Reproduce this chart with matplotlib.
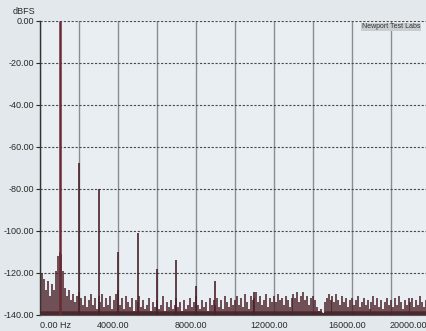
import numpy as np
import matplotlib
matplotlib.use("Agg")
import matplotlib.pyplot as plt
from matplotlib.transforms import ScaledTranslation

plt.rcParams["font.family"] = ["Liberation Sans", "DejaVu Sans"]

# harmonic peaks of the 1 kHz test tone (Hz, dBFS)
harm_freq = [1000, 2000, 3000, 4000, 5000, 6000, 7000, 8000, 9000, 11000]
harm_db = [0.0, -67.5, -80.0, -110.0, -101.0, -118.0, -114.0, -126.0, -124.0, -129.0]

# noise floor, one value per 100 Hz bin (0 .. 19900 Hz)
noise_db = [
    -107, -120, -123, -128, -124, -131, -125, -128, -119, -112,
    -110, -111, -119, -127, -131, -128, -133, -130, -134, -131,
    -129, -132, -135, -131, -136, -133, -130, -135, -132, -137,
    -131, -134, -130, -136, -132, -135, -131, -137, -133, -130,
    -128, -135, -132, -137, -131, -134, -136, -132, -138, -133,
    -134, -131, -136, -133, -137, -135, -132, -138, -134, -136,
    -133, -137, -135, -131, -138, -134, -136, -133, -137, -135,
    -132, -136, -134, -138, -133, -137, -135, -132, -136, -134,
    -131, -135, -137, -133, -136, -134, -138, -132, -135, -133,
    -135, -132, -136, -133, -137, -131, -134, -136, -132, -135,
    -133, -131, -135, -132, -136, -130, -134, -137, -131, -133,
    -132, -129, -134, -131, -135, -133, -130, -136, -132, -134,
    -131, -134, -130, -133, -132, -135, -131, -133, -136, -132,
    -130, -132, -129, -134, -131, -129, -133, -131, -135, -132,
    -131, -133, -136, -138, -137, -139, -134, -132, -130, -133,
    -131, -134, -130, -133, -135, -131, -134, -132, -136, -133,
    -132, -135, -133, -131, -136, -134, -132, -135, -133, -137,
    -134, -131, -135, -132, -136, -133, -137, -134, -132, -135,
    -133, -136, -132, -135, -131, -134, -137, -133, -135, -132,
    -134, -132, -136, -133, -135, -131, -134, -136, -133, -135,
]
noise_freq = np.arange(len(noise_db)) * 100

y_ticks = [0, -20, -40, -60, -80, -100, -120, -140]
x_ticks = [0, 4000, 8000, 12000, 16000, 20000]
x_labels = ["0.00 Hz", "4000.00", "8000.00", "12000.00", "16000.00", "20000.00"]

trace = "#4a2128"
text_col = "#2a2a2a"

fig = plt.figure(figsize=(4.27, 3.31), dpi=100, facecolor="#e2e8eb")
ax = fig.add_axes([40 / 427, 16 / 331, 390 / 427, 294 / 331], facecolor="#e8eef1")
ax.set_xlim(0, 20000)
ax.set_ylim(-140, 0)

# grid: solid verticals every 2 kHz, dashed horizontals every 20 dB
ax.set_xticks(x_ticks)
ax.set_xticks(np.arange(0, 20001, 2000), minor=True)
ax.set_yticks(y_ticks)
ax.xaxis.grid(True, which="both", color="#8a8e92", lw=1.0, ls="-")
ax.yaxis.grid(True, color="#4a4a4a", lw=0.8, ls=(0, (2, 1.5)))
ax.set_axisbelow(True)

# spectrum trace: thin spikes over a low dark band
noise = np.array(noise_db, dtype=float)
ax.fill_between(noise_freq, -140, np.minimum(noise, -138.0),
                color="#3a1c20", alpha=0.85, lw=0)
ax.vlines(noise_freq, -140, noise, color=trace, lw=1.1)
ax.vlines(harm_freq[1:], -140, harm_db[1:], color=trace, lw=1.2)
ax.vlines(harm_freq[0], -140, harm_db[0], color="#6a2a34", lw=1.8)

ax.set_yticklabels([f"{v:.2f}" for v in y_ticks])
ax.set_xticklabels(x_labels)
ax.tick_params(axis="y", length=3, width=0.8, pad=1, labelsize=6.5,
               colors=text_col, direction="out")
ax.tick_params(axis="x", which="both", length=0, pad=4, labelsize=6.5,
               colors=text_col)

xlabs = ax.get_xticklabels()
xlabs[0].set_ha("left")
for lab in xlabs[1:-1]:
    lab.set_transform(lab.get_transform() + ScaledTranslation(-5 / 100, 0, fig.dpi_scale_trans))
xlabs[-1].set_transform(xlabs[-1].get_transform() + ScaledTranslation(-22 / 100, 0, fig.dpi_scale_trans))

for side in ["top", "right"]:
    ax.spines[side].set_visible(False)
ax.spines["left"].set_color("#333333")
ax.spines["left"].set_linewidth(1.0)
ax.spines["bottom"].set_color("#555555")
ax.spines["bottom"].set_linewidth(0.8)

fig.text(13 / 427, 1 - 12 / 331, "dBFS", fontsize=6.5, color=text_col, va="center")
fig.text(362 / 427, 1 - 27 / 331, "Newport Test Labs", fontsize=5, color="#333333",
         va="center", bbox=dict(facecolor="#c9cdd0", edgecolor="none", pad=0.6))

fig.savefig("out.png", dpi=100, facecolor=fig.get_facecolor())
